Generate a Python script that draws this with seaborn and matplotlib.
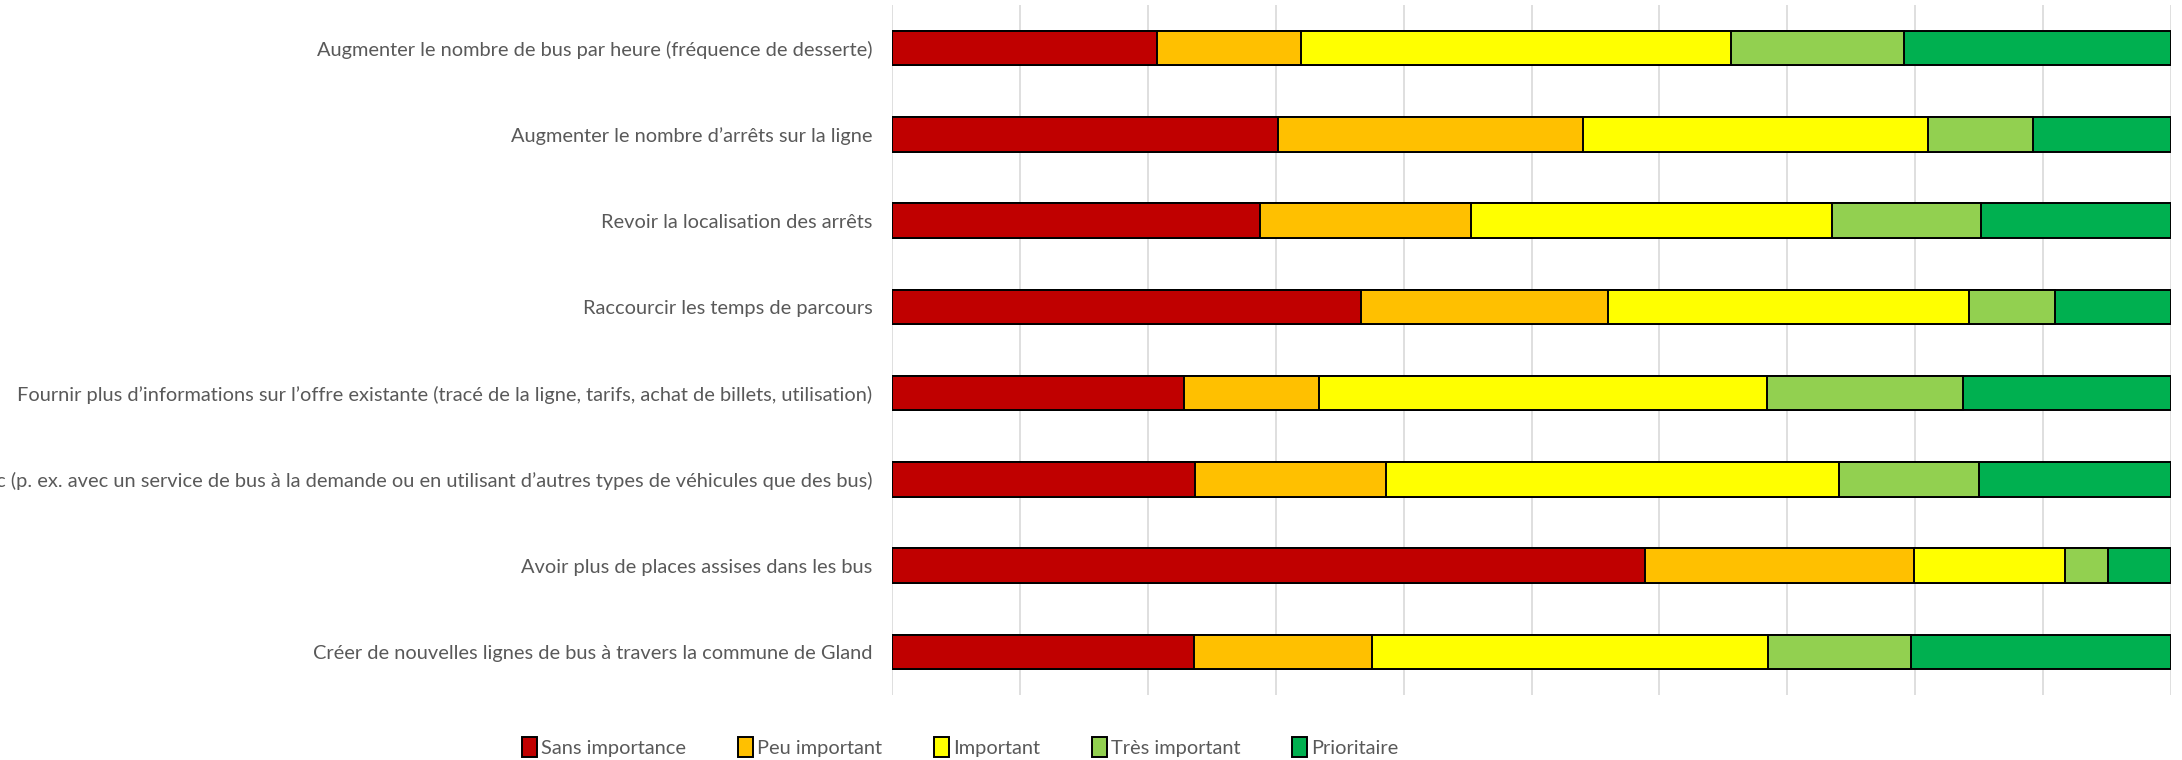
import numpy as np
import pandas as pd
import seaborn as sns
import matplotlib.pyplot as plt
from matplotlib.patches import Patch

# Survey answers, share of respondents (%) per measure
measures = [
    "Augmenter le nombre de bus par heure (fréquence de desserte)",
    "Augmenter le nombre d’arrêts sur la ligne",
    "Revoir la localisation des arrêts",
    "Raccourcir les temps de parcours",
    "Fournir plus d’informations sur l’offre existante (tracé de la ligne, tarifs, achat de billets, utilisation)",
    "Compléter l’offre de transport public (p. ex. avec un service de bus à la demande ou en utilisant d’autres types de véhicules que des bus)",
    "Avoir plus de places assises dans les bus",
    "Créer de nouvelles lignes de bus à travers la commune de Gland",
]
levels = ["Sans importance", "Peu important", "Important", "Très important", "Prioritaire"]
sans_importance = [20.7, 30.2, 28.8, 36.7, 22.8, 23.7, 58.9, 23.6]
peu_important = [11.3, 23.8, 16.5, 19.3, 10.6, 14.9, 21.0, 13.9]
important = [33.6, 27.0, 28.2, 28.2, 35.0, 35.4, 11.8, 31.0]
tres_important = [13.5, 8.2, 11.6, 6.7, 15.3, 11.0, 3.4, 11.2]
prioritaire = [20.9, 10.8, 14.9, 9.1, 16.3, 15.0, 4.9, 20.3]
colors = ["#C00000", "#FFC000", "#FFFF00", "#92D050", "#00B050"]

df = pd.DataFrame({"mesure": measures, levels[0]: sans_importance, levels[1]: peu_important,
                   levels[2]: important, levels[3]: tres_important, levels[4]: prioritaire})
cum = df[levels].cumsum(axis=1)

sns.set_style("white")
plt.rcParams['font.family'] = ['Lato', 'DejaVu Sans']

fig = plt.figure(figsize=(21.82, 7.6), dpi=100)
ax = fig.add_axes([0.4088, 0.0855, 0.5862, 0.9079])

# draw cumulative bars from the longest to the shortest so they stack
for lvl, col in reversed(list(zip(levels, colors))):
    sns.barplot(x=cum[lvl], y=df["mesure"], color=col, saturation=1, orient="h", width=0.4,
                edgecolor="black", linewidth=1.4, ax=ax, zorder=3)

ax.set_xlim(0, 100)
ax.set_ylim(7.5, -0.5)
ax.set_xticks(np.arange(0, 101, 10))
ax.set_xticklabels([])
ax.grid(axis="x", color="#D9D9D9", linewidth=1.2, zorder=0)
ax.set_axisbelow(True)
for s in ax.spines.values():
    s.set_visible(False)
ax.set_xlabel("")
ax.set_ylabel("")
ax.tick_params(axis="both", length=0)
ax.tick_params(axis="y", pad=14, labelsize=14.4, labelcolor="#595959")

handles = [Patch(facecolor=c, edgecolor="black", linewidth=1.4) for c in colors]
fig.legend(handles, levels, loc="center", bbox_to_anchor=(0.44, 0.017), ncol=5,
           frameon=False, fontsize=14.4, labelcolor="#595959", handlelength=0.75,
           handleheight=1.1, handletextpad=0.2, columnspacing=2.6)

fig.savefig("out.png", dpi=100)
